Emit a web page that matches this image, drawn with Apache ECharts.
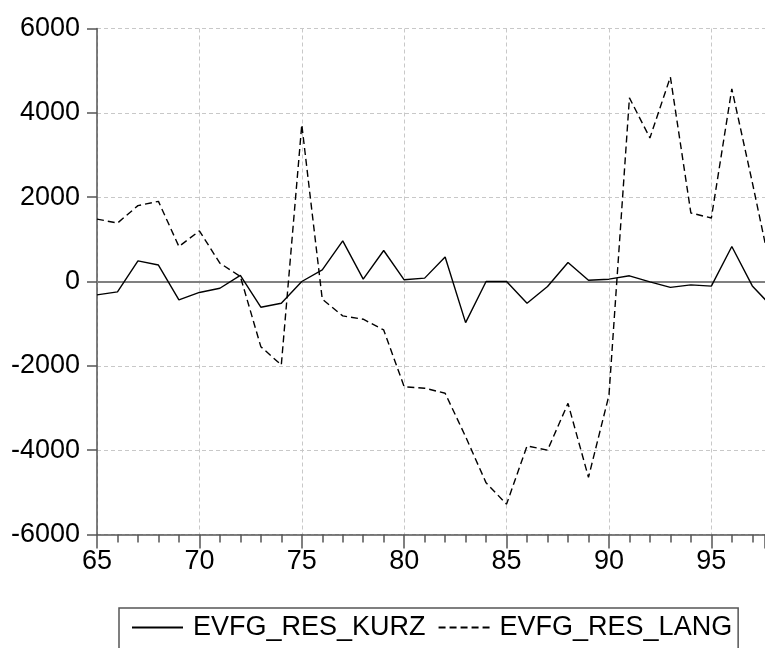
<!DOCTYPE html>
<html>
<head>
<meta charset="utf-8">
<script src="https://cdn.jsdelivr.net/npm/echarts@6/dist/echarts.min.js"></script>
<style>
html,body{margin:0;padding:0;background:#fff;}
#chart{width:765px;height:648px;}
</style>
</head>
<body>
<div id="chart"></div>
<script>
const years = [65,66,67,68,69,70,71,72,73,74,75,76,77,78,79,80,81,82,83,84,85,86,87,88,89,90,91,92,93,94,95,96,97,98];
const evfgResKurz = [-316,-245,490,390,-435,-260,-160,145,-610,-515,0,275,965,55,735,40,80,580,-975,0,0,-515,-120,450,30,55,135,-10,-140,-80,-110,830,-105,-620];
const evfgResLang = [1480,1385,1800,1900,830,1200,435,120,-1545,-1980,3720,-420,-815,-895,-1150,-2495,-2530,-2650,-3680,-4775,-5280,-3900,-4000,-2890,-4645,-2700,4355,3405,4850,1625,1505,4570,2350,50];
const seriesNames = ['EVFG_RES_KURZ','EVFG_RES_LANG'];
const yTicks = [-6000,-4000,-2000,0,2000,4000,6000];

const font = "'Liberation Sans', Arial, sans-serif";
const chart = echarts.init(document.getElementById('chart'), null, {renderer:'canvas'});
const pairs = arr => years.map((y,i)=>[y, arr[i]]);

chart.setOption({
  animation:false,
  backgroundColor:'#ffffff',
  grid:{left:97, right:0, top:28.5, bottom:113.5, containLabel:false},
  xAxis:{
    type:'value', min:65, max:97.62, interval:5,
    axisLine:{show:true, onZero:false, lineStyle:{color:'#555', width:1.5}},
    axisTick:{show:true, inside:false, length:14, lineStyle:{color:'#555', width:1.5}},
    minorTick:{show:true, splitNumber:5, length:8, lineStyle:{color:'#555', width:1.5}},
    axisLabel:{color:'#000', fontFamily:font, fontSize:27, margin:14, showMaxLabel:false,
      formatter: v => (Math.abs(v - Math.round(v)) < 1e-6 && Math.round(v) % 5 === 0) ? String(Math.round(v)) : ''},
    splitLine:{show:true, lineStyle:{color:'#c8c8c8', type:[4,3], width:1}}
  },
  yAxis:{
    type:'value', min:yTicks[0], max:yTicks[yTicks.length-1], interval:2000,
    axisLine:{show:true, lineStyle:{color:'#555', width:1.5}},
    axisTick:{show:true, inside:false, length:10, lineStyle:{color:'#555', width:1.5}},
    axisLabel:{color:'#000', fontFamily:font, fontSize:27, margin:17, padding:[0,0,6,0],
      formatter: v => String(v)},
    splitLine:{show:true, lineStyle:{color:'#c8c8c8', type:[4,3], width:1}}
  },
  legend:{
    show:true, left:119, top:608, orient:'horizontal',
    data:seriesNames,
    itemWidth:51, itemHeight:14, itemGap:12,
    padding:[6,6,8,12],
    borderColor:'#555', borderWidth:1.5, borderRadius:0,
    itemStyle:{opacity:0, borderWidth:0},
    textStyle:{color:'#000', fontFamily:font, fontSize:27, padding:[0,0,0,5]}
  },
  series:[
    {
      name:seriesNames[0], type:'line', data:pairs(evfgResKurz),
      symbol:'none', showSymbol:false, clip:true,
      lineStyle:{color:'#000', width:1.4, type:'solid'},
      itemStyle:{color:'#000'},
      z:5,
      markLine:{
        silent:true, symbol:'none', label:{show:false},
        lineStyle:{color:'#808080', width:2, type:'solid'},
        data:[{yAxis:0}]
      }
    },
    {
      name:seriesNames[1], type:'line', data:pairs(evfgResLang),
      symbol:'none', showSymbol:false, clip:true,
      lineStyle:{color:'#000', width:1.4, type:[7,4]},
      itemStyle:{color:'#000'},
      z:5
    }
  ]
});
</script>
</body>
</html>
